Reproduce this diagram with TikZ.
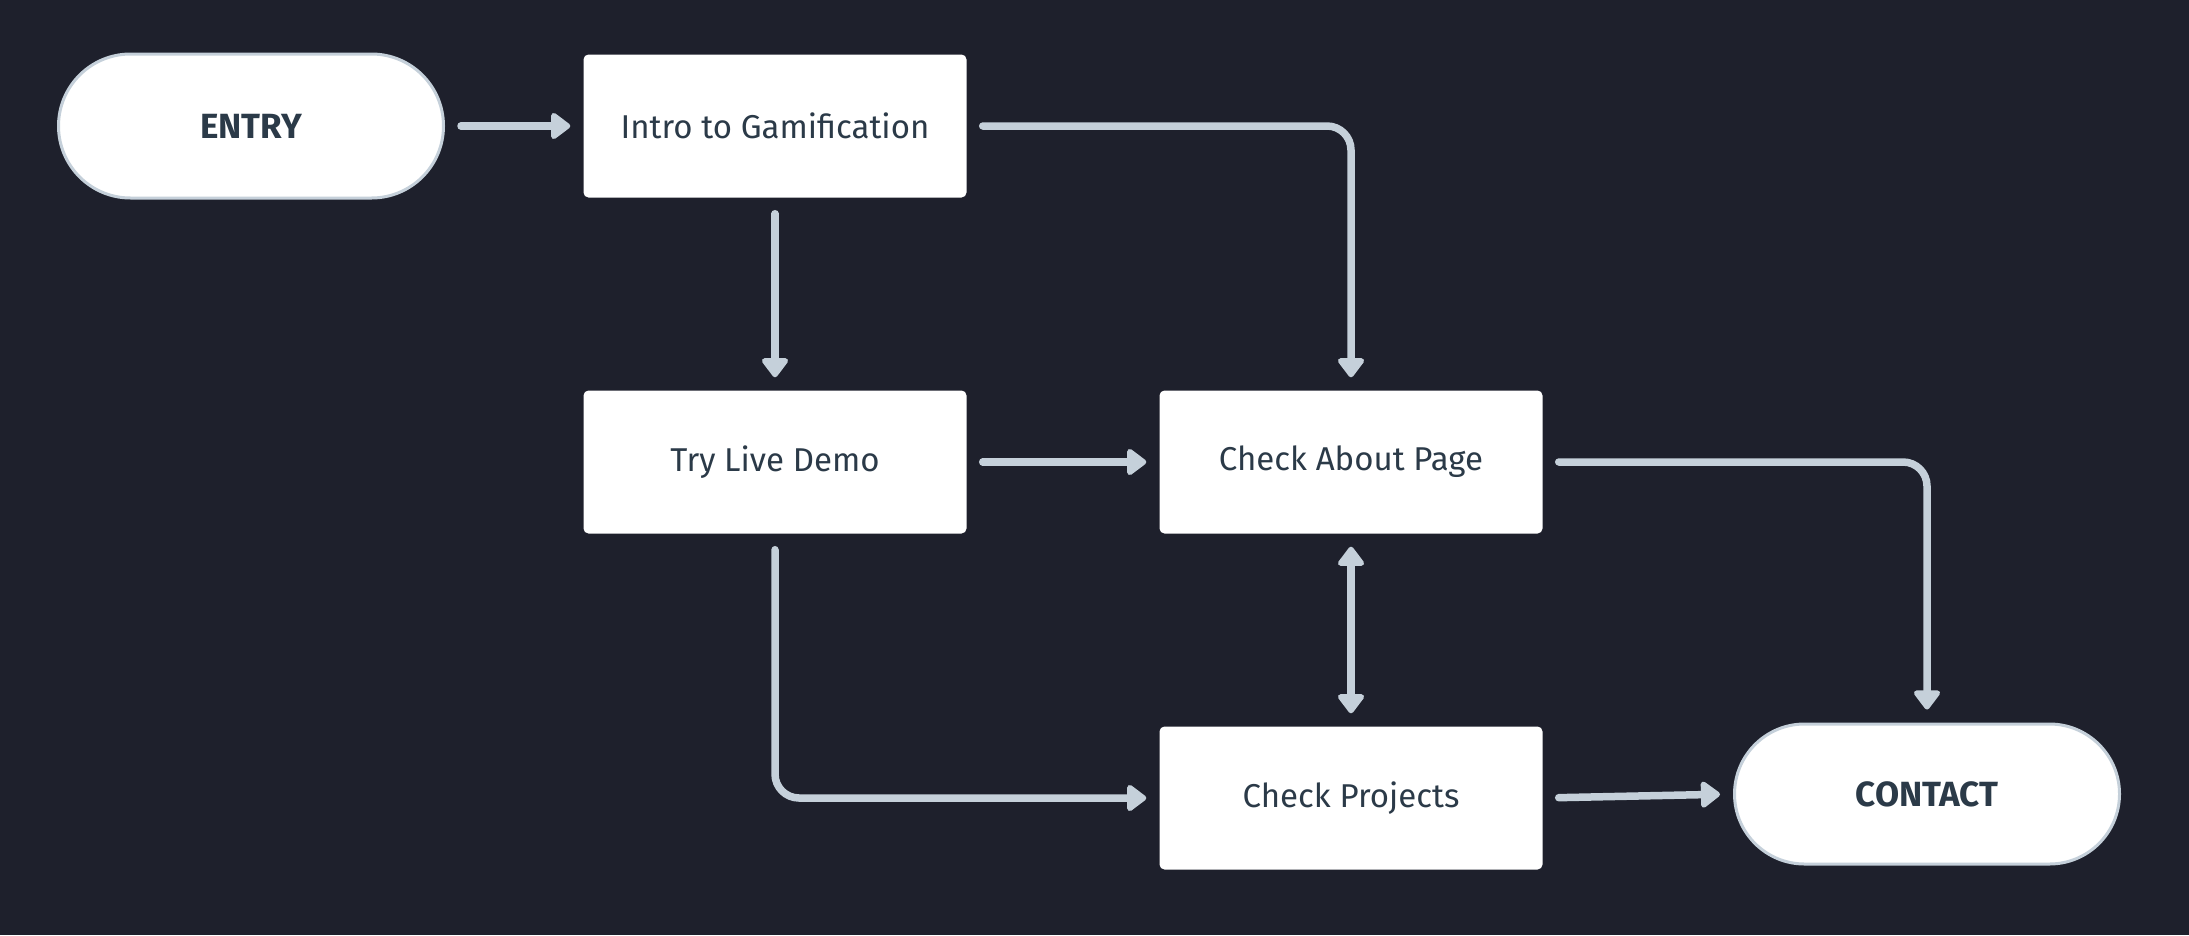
\documentclass[tikz,border=0pt]{standalone}
\usepackage{fontspec}
\setmainfont{Fira Sans}
\usetikzlibrary{arrows.meta,shapes.misc}
\definecolor{bg}{HTML}{1E202C}
\definecolor{lineclr}{HTML}{C5D0DA}
\definecolor{txt}{HTML}{2B3A48}
\tikzset{
  box/.style={rectangle, rounded corners=5pt, fill=white, draw=none,
    minimum width=383pt, minimum height=143pt, inner sep=0pt,
    text=txt, font=\fontsize{33}{38}\selectfont},
  term/.style={rounded rectangle, fill=white, draw=lineclr, line width=3pt,
    minimum width=385pt, minimum height=140pt, inner sep=0pt,
    text=txt, font=\fontsize{35}{40}\selectfont\bfseries},
  conn/.style={draw=lineclr, line width=7.5pt, line cap=round, line join=round,
    rounded corners=24pt,
    -{Triangle[length=21pt,width=30pt,round]},
    shorten <=16pt, shorten >=13pt},
  biconn/.style={conn, {Triangle[length=21pt,width=30pt,round]}-{Triangle[length=21pt,width=30pt,round]}, shorten <=13pt}
}
\begin{document}
\begin{tikzpicture}[x=1pt,y=-1pt]
\fill[bg] (0,0) rectangle (2189,935);
\useasboundingbox (0,0) rectangle (2189,935);
\node[term, minimum height=144pt] (entry) at (251,126) {ENTRY};
\node[box] (intro) at (775,126) {Intro to Gamification};
\node[box] (try) at (775,462) {Try Live Demo};
\node[box] (about) at (1351,462) {Check About Page};
\node[box] (projects) at (1351,798) {Check Projects};
\node[term] (contact) at (1927,794) {CONTACT};

\draw[conn] (entry.east) -- (intro.west);
\draw[conn] (intro.south) -- (try.north);
\draw[conn] (intro.east) -| (about.north);
\draw[conn] (try.east) -- (about.west);
\draw[conn] (about.east) -| (contact.north);
\draw[biconn] (about.south) -- (projects.north);
\draw[conn] (try.south) |- (projects.west);
\draw[conn] (projects.east) -- (contact.west);
\end{tikzpicture}
\end{document}
